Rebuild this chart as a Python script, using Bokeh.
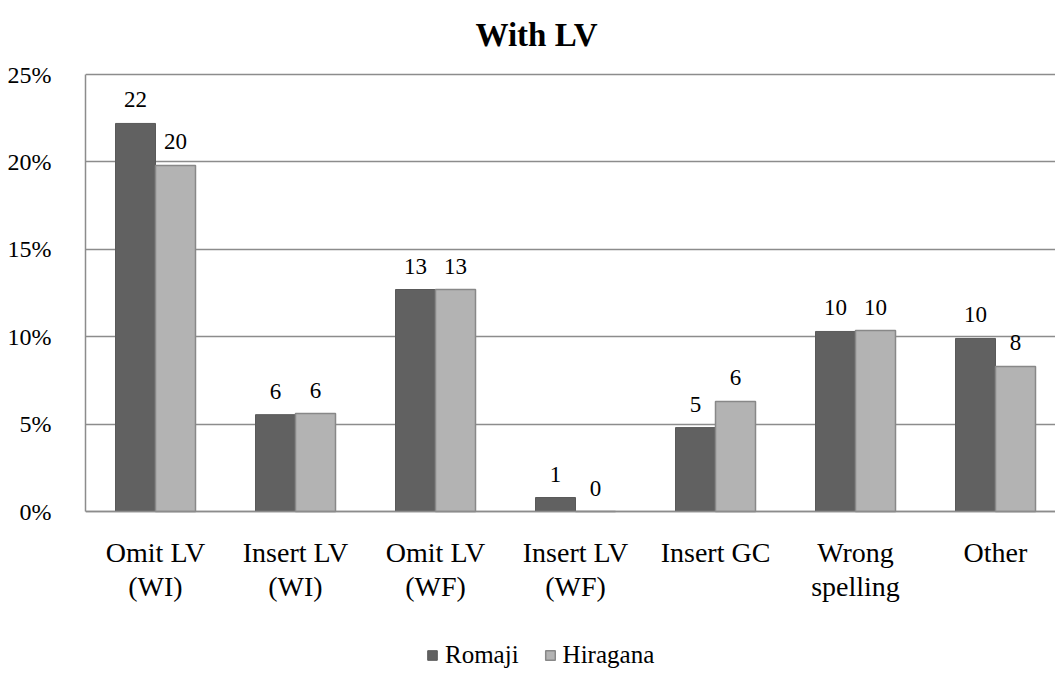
import numpy as np
from bokeh.plotting import figure
from bokeh.core.properties import value
from bokeh.models import (ColumnDataSource, Range1d, FixedTicker, PrintfTickFormatter,
                          LabelSet, Label, Legend, LegendItem)
from bokeh.embed import file_html
from bokeh.resources import INLINE

categories = ["Omit LV\n(WI)", "Insert LV\n(WI)", "Omit LV\n(WF)", "Insert LV\n(WF)",
              "Insert GC", "Wrong\nspelling", "Other"]
series = ["Romaji", "Hiragana"]
romaji = [22.2, 5.54, 12.7, 0.8, 4.8, 10.3, 9.9]
hiragana = [19.8, 5.6, 12.7, 0.0, 6.3, 10.35, 8.3]
y_ticks = [0, 5, 10, 15, 20, 25]
title_text = "With LV"

FONT = "Liberation Serif"
GRID = "#8c8c8c"
DARK = "#616161"
LIGHT = "#b3b3b3"

W, H = 1055, 674
LEFT = 85
CAT_PX = 140.0            # pixels per category
TOP_PX, ZERO_PX = 74, 511  # pixel rows of 25% and 0%
ppu = (ZERO_PX - TOP_PX) / 25.0
y_top = 25 + TOP_PX / ppu
y_bot = -(H - ZERO_PX) / ppu

n = len(categories)
centers = np.arange(n) + 0.5
bw = 40 / CAT_PX

src_r = ColumnDataSource(dict(x=centers - bw / 2, top=romaji,
                              lab=["%.0f" % v for v in romaji]))
src_h = ColumnDataSource(dict(x=centers + bw / 2, top=hiragana,
                              lab=["%.0f" % v for v in hiragana]))

p = figure(width=W, height=H, x_range=Range1d(0, (W - LEFT) / CAT_PX),
           y_range=Range1d(y_bot, y_top),
           output_backend="svg", toolbar_location=None,
           min_border_left=LEFT, min_border_right=0, min_border_top=0, min_border_bottom=0)
p.outline_line_color = None
p.background_fill_color = "white"
p.border_fill_color = "white"

r1 = p.vbar(x="x", top="top", width=bw, bottom=0, source=src_r,
            fill_color=DARK, line_color="#595959", line_width=1)
r2 = p.vbar(x="x", top="top", width=bw, bottom=0, source=src_h,
            fill_color=LIGHT, line_color="#888888", line_width=1.5)

for src in (src_r, src_h):
    p.add_layout(LabelSet(x="x", y="top", text="lab", source=src, text_align="center",
                          text_baseline="alphabetic", y_offset=16,
                          text_font=value(FONT), text_font_size=value("23px"),
                          text_color="black"))

# axes
p.xaxis.fixed_location = 0
p.xaxis.ticker = FixedTicker(ticks=list(centers))
p.xaxis.major_label_overrides = {float(c): lab for c, lab in zip(centers, categories)}
p.xaxis.major_label_text_font = FONT
p.xaxis.major_label_text_font_size = "28px"
p.xaxis.major_label_text_color = "black"
p.xaxis.major_label_text_line_height = 1.1
p.xaxis.major_label_standoff = 19
p.xaxis.major_tick_line_color = None
p.xaxis.minor_tick_line_color = None
p.xaxis.axis_line_color = GRID
p.xaxis.axis_line_width = 1.5

p.yaxis.ticker = FixedTicker(ticks=y_ticks)
p.yaxis.bounds = (0, 25)
p.yaxis.formatter = PrintfTickFormatter(format="%d%%")
p.yaxis.major_label_text_font = FONT
p.yaxis.major_label_text_font_size = "24px"
p.yaxis.major_label_text_color = "black"
p.yaxis.major_label_standoff = 28
p.yaxis.major_tick_line_color = None
p.yaxis.minor_tick_line_color = None
p.yaxis.axis_line_color = GRID
p.yaxis.axis_line_width = 1.5

p.xgrid.grid_line_color = None
p.ygrid.grid_line_color = GRID
p.ygrid.grid_line_width = 1.5

# title (centred on the chart area, baseline ~34 px from the top)
p.add_layout(Label(x=(536 - LEFT) / CAT_PX, y=y_top - 34 / ppu, text=title_text,
                   text_align="center", text_baseline="alphabetic",
                   text_font=FONT, text_font_size="33px", text_font_style="bold",
                   text_color="black"))

legend = Legend(items=[LegendItem(label=series[0], renderers=[r1]),
                       LegendItem(label=series[1], renderers=[r2])],
                orientation="horizontal", location=(341, 5),
                label_text_font=FONT, label_text_font_size="25px",
                label_text_color="black",
                glyph_width=12, glyph_height=12, label_standoff=7, spacing=25,
                padding=0, margin=0, border_line_color=None,
                background_fill_alpha=0)
p.add_layout(legend)

open("out.html", "w").write(file_html(p, INLINE))
